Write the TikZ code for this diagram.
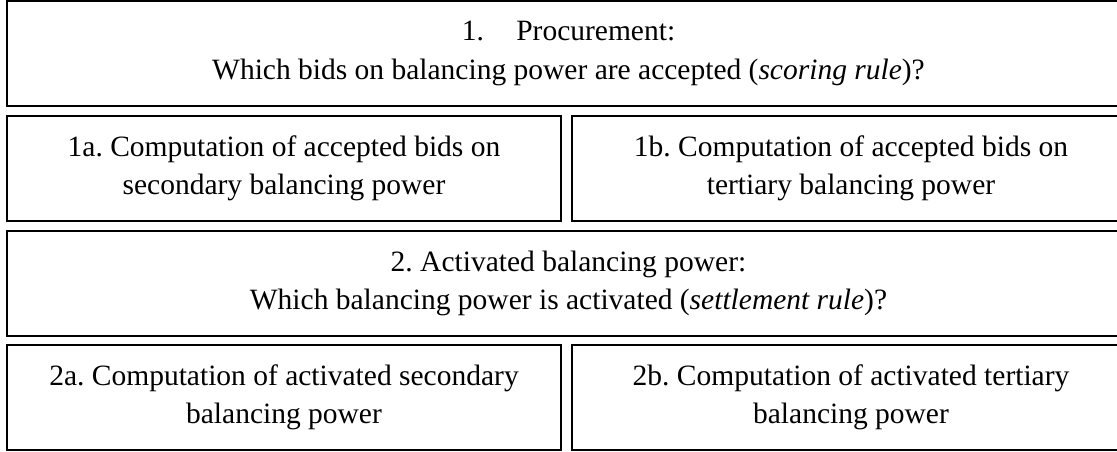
\documentclass[tikz,border=0pt]{standalone}
\usepackage{fontspec}
\setmainfont{Liberation Serif}
\usepackage{tikz}
\usetikzlibrary{positioning}
\frenchspacing
\tikzstyle{block} = [rectangle, draw, line width=1.3pt, outer sep=0pt,
    inner sep=0pt, align=center, anchor=north west,
    font=\fontsize{29.5}{38.5}\selectfont, minimum height=105pt]
\tikzstyle{wide} = [block, minimum width=1123pt]
\tikzstyle{half} = [block, minimum width=554pt]
\tikzstyle{halfr} = [block, minimum width=558pt]

\begin{document}
\begin{tikzpicture}[x=1pt, y=-1pt]
  \useasboundingbox (0,0) rectangle (1117,452);
  % Place nodes
  \node [wide] (proc) at (7,1)
    {1.\hspace{1.1em}Procurement:\\Which bids on balancing power are accepted (\textit{scoring rule})?};
  \node [half] (procsec) at (7,116)
    {1a. Computation of accepted bids on\\secondary balancing power};
  \node [halfr] (proctert) at (572,116)
    {1b. Computation of accepted bids on\\tertiary balancing power};
  \node [wide] (act) at (7,231)
    {2. Activated balancing power:\\Which balancing power is activated (\textit{settlement rule})?};
  \node [half] (actsec) at (7,345)
    {2a. Computation of activated secondary\\balancing power};
  \node [halfr] (acttert) at (572,345)
    {2b. Computation of activated tertiary\\balancing power};

\end{tikzpicture}
\end{document}
